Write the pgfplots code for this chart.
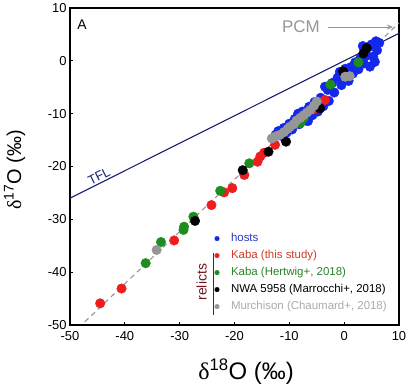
\documentclass[border=0pt]{standalone}
\usepackage{pgfplots}
\pgfplotsset{compat=1.18}
\usepackage{fontspec}
\setmainfont{Liberation Sans}
\newfontfamily\deltafont{Liberation Serif}
\usetikzlibrary{arrows.meta}
\definecolor{hostblue}{RGB}{20,40,235}
\definecolor{hosttext}{RGB}{40,55,190}
\definecolor{kabared}{RGB}{238,30,30}
\definecolor{kabatext}{RGB}{205,60,40}
\definecolor{hertgreen}{RGB}{30,140,30}
\definecolor{herttext}{RGB}{40,130,40}
\definecolor{murgray}{RGB}{150,150,150}
\definecolor{murtext}{RGB}{170,170,170}
\definecolor{tflnavy}{RGB}{25,30,115}
\definecolor{relictred}{RGB}{110,20,30}
\definecolor{pcmgray}{RGB}{150,150,150}
\begin{document}
\begin{tikzpicture}
\begin{axis}[
 scale only axis, width=329bp, height=317bp,
 xmin=-50, xmax=10, ymin=-50, ymax=10,
 xtick={-50,-40,-30,-20,-10,0,10},
 ytick={-50,-40,-30,-20,-10,0,10},
 tick align=inside, tick pos=left,
 major tick length=3bp,
 axis line style={line width=1.4bp},
 tick style={line width=0.8bp, black},
 /pgf/number format/assume math mode=true,
 ticklabel style={font=\fontsize{13}{15}\selectfont},
 xticklabel style={yshift=-3bp},
 xlabel={{\deltafont δ}\textsuperscript{18}O (‰)},
 ylabel={{\deltafont δ}\textsuperscript{17}O (‰)},
 xlabel style={at={(axis description cs:0.535,-0.148)}, anchor=center, font=\fontsize{24}{27}\selectfont},
 ylabel style={at={(axis description cs:-0.168,0.49)}, anchor=center, rotate=0, font=\fontsize{20}{23}\selectfont},
 clip=false,
 legend cell align=left,
 legend style={at={(axis cs:-24.5,-32.0)}, anchor=north west, draw=none, fill=none,
   font=\fontsize{11.5}{13}\selectfont, row sep=4bp,
   nodes={inner sep=1bp, text height=8.5bp, text depth=2.5bp}},
 legend image code/.code={\path[draw=none,fill=none] (0bp,0bp) (17bp,0bp); \draw[#1, mark size=2.3pt] plot coordinates {(4bp,0bp)};},
]
% PCM line
\addplot[forget plot, pcmgray, line width=1.1bp, dash pattern=on 5bp off 4bp] coordinates {(-47.3,-49.4) (10,7.17)};
% TFL line
\addplot[forget plot, tflnavy, line width=1.1bp] coordinates {(-50,-26) (10,5.2)};

% hosts
\addplot[only marks, mark=*, mark size=4.8pt, hostblue, mark options={draw=hostblue, fill=hostblue}] coordinates {
(-12.5,-14.0) (-12.0,-13.3) (-11.5,-14.2) (-11.0,-12.7) (-10.5,-13.6) (-10.0,-11.9)
(-9.5,-13.0) (-9.0,-11.0) (-8.4,-10.0) (-8.2,-12.0) (-7.6,-9.6) (-7.0,-11.3)
(-6.6,-11.4) (-6.4,-8.7) (-5.8,-10.3) (-5.4,-7.8) (-4.8,-9.6) (-4.3,-7.0)
(-3.8,-8.6) (-3.5,-4.9) (-3.0,-5.5) (-2.8,-7.6) (-2.2,-4.2) (-1.8,-6.0)
(-1.2,-3.2) (-0.8,-2.1) (-0.5,-4.6) (0.2,-1.5) (0.8,-3.8) (1.2,-1.2)
(1.6,-2.4) (2.0,-0.3) (2.6,-1.6) (3.0,0.6) (3.6,-0.5) (4.1,1.0)
(4.7,-1.1) (4.4,2.6) (5.0,3.1) (5.3,0.8) (5.6,-0.2) (5.8,3.7) (6.4,3.4) (6.0,2.0) (3.4,2.8)
};
\addlegendentry{\textcolor{hosttext}{hosts}}
% Kaba this study
\addplot[only marks, mark=*, mark size=4.8pt, kabared, mark options={draw=kabared, fill=kabared}] coordinates {
(-44.5,-45.9) (-40.6,-43.1) (-31.0,-34.0) (-24.2,-27.3) (-21.9,-24.9) (-20.4,-24.1)
(-18.2,-21.6) (-15.8,-19.1) (-15.3,-18.1) (-14.6,-17.4) (-12.6,-15.9) (-3.5,-7.4) (-5.6,-9.2)
};
\addlegendentry{\textcolor{kabatext}{Kaba (this study)}}
% Kaba Hertwig
\addplot[only marks, mark=*, mark size=4.8pt, hertgreen, mark options={draw=hertgreen, fill=hertgreen}] coordinates {
(-36.2,-38.3) (-33.4,-34.3) (-29.3,-32.0) (-29.2,-31.4) (-27.5,-29.5) (-22.6,-24.6)
(-17.3,-19.4) (-8.0,-11.8) (-7.4,-10.9) (-2.5,-4.5) (2.6,-0.3)
};
\addlegendentry{\textcolor{herttext}{Kaba (Hertwig+, 2018)}}
% NWA 5958
\addplot[only marks, mark=*, mark size=4.8pt, black, mark options={draw=black, fill=black}] coordinates {
(-27.2,-30.3) (-18.5,-20.7) (-13.8,-17.2) (-10.6,-15.3) (-4.4,-9.0) (-0.2,-2.0)
(0.3,-2.8) (3.5,1.4) (4.1,2.4)
};
\addlegendentry{NWA 5958 (Marrocchi+, 2018)}
% Murchison
\addplot[only marks, mark=*, mark size=4.8pt, murgray, mark options={draw=murgray, fill=murgray}] coordinates {
(-34.2,-35.8) (-13.2,-14.7) (-12.5,-14.3) (-11.7,-14.0) (-11.0,-13.5) (-10.3,-12.9)
(-9.9,-12.5) (-9.2,-12.0) (-8.7,-11.3) (-8.0,-10.8) (-7.4,-10.3) (-6.8,-9.8)
(-6.2,-9.3) (-5.5,-8.5) (-5.0,-7.7) (0.2,-3.0) (1.0,-2.9)
};
\addlegendentry{\textcolor{murtext}{Murchison (Chaumard+, 2018)}}

% annotations
\node[font=\fontsize{14}{16}\selectfont] at (axis cs:-47.8,6.8) {A};
\node[pcmgray, font=\fontsize{17}{19}\selectfont] at (axis cs:-7.9,6.4) {PCM};
\draw[pcmgray, line width=0.8bp, -{Stealth[length=6bp,width=5bp]}] (axis cs:-2.9,6.4) -- (axis cs:8.9,6.4);
\node[tflnavy, rotate=26.6, font=\fontsize{13}{15}\selectfont] at (axis cs:-44.7,-21.8) {TFL};
\draw[relictred, line width=1.2bp] (axis cs:-23.9,-36.4) -- (axis cs:-23.9,-48.1);
\node[relictred, rotate=90, font=\fontsize{14}{16}\selectfont] at (axis cs:-26.0,-41.9) {relicts};
\coordinate (sw) at (rel axis cs:0,0);
\coordinate (ne) at (rel axis cs:1,1);
\end{axis}
\pgfresetboundingbox
\path[use as bounding box] ([shift={(-70bp,-62bp)}]sw) rectangle ([shift={(13bp,8bp)}]ne);
\end{tikzpicture}
\end{document}
